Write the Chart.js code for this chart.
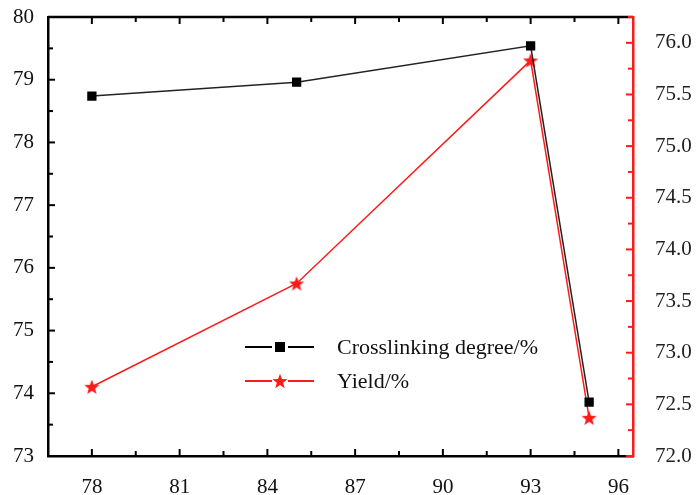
<!DOCTYPE html>
<html>
<head>
<meta charset="utf-8">
<script src="https://cdn.jsdelivr.net/npm/chart.js@4.4.1/dist/chart.umd.min.js"></script>
<style>
  html, body { margin: 0; padding: 0; background: #fff; }
  #wrap { width: 696px; height: 495px; }
</style>
</head>
<body>
<div id="wrap"><canvas id="chart" width="696" height="495"></canvas></div>
<script>
// data
const TEMPS = [78, 85, 93, 95];
const CROSSLINK = [78.74, 78.96, 79.54, 73.86];
const YIELD = [72.67, 73.67, 75.83, 72.37];
const SERIES_NAMES = ['Crosslinking degree/%', 'Yield/%'];

const FONT = '"Liberation Serif", "Times New Roman", serif';
const RED = '#ff1a1a';

// is v a multiple of step (tolerant of float noise)
const isMult = (v, step) => Math.abs(v / step - Math.round(v / step)) < 1e-6;

// filled five-point star for the yield series
function makeStar(size, color){
  const c = document.createElement('canvas');
  c.width = size; c.height = size;
  const g = c.getContext('2d');
  const cx = size/2, cy = size/2 + 0.7, ro = size/2, ri = ro*0.42;
  g.beginPath();
  for(let i = 0; i < 10; i++){
    const r = i % 2 ? ri : ro;
    const a = -Math.PI/2 + i*Math.PI/5;
    g.lineTo(cx + r*Math.cos(a), cy + r*Math.sin(a));
  }
  g.closePath();
  g.fillStyle = color; g.fill();
  return c;
}
const STAR = makeStar(16, RED);

// ticks pointing into the plot, drawn from the scales' own tick list
const inwardTicks = {
  id: 'inwardTicks',
  afterDraw(chart){
    const {ctx, chartArea: a, scales} = chart;
    ctx.save();
    const x = scales.x;
    ctx.strokeStyle = '#000'; ctx.lineWidth = 2;
    x.ticks.forEach(t => {
      const px = x.getPixelForValue(t.value);
      const len = isMult(t.value, 3) ? 7 : 5;
      ctx.beginPath(); ctx.moveTo(px, a.bottom); ctx.lineTo(px, a.bottom - len); ctx.stroke();
      ctx.beginPath(); ctx.moveTo(px, a.top); ctx.lineTo(px, a.top + len); ctx.stroke();
    });
    // top frame line
    ctx.lineWidth = 2.5;
    ctx.beginPath(); ctx.moveTo(a.left, a.top); ctx.lineTo(a.right, a.top); ctx.stroke();
    const y = scales.y;
    ctx.lineWidth = 2;
    y.ticks.forEach(t => {
      const py = y.getPixelForValue(t.value);
      const len = isMult(t.value, 1) ? 7 : 5;
      ctx.beginPath(); ctx.moveTo(a.left, py); ctx.lineTo(a.left + len, py); ctx.stroke();
    });
    const y2 = scales.y2;
    ctx.strokeStyle = RED;
    y2.ticks.forEach(t => {
      const py = y2.getPixelForValue(t.value);
      const len = isMult(t.value, 0.5) ? 7 : 5;
      ctx.beginPath(); ctx.moveTo(a.right, py); ctx.lineTo(a.right - len, py); ctx.stroke();
    });
    ctx.restore();
  }
};

// legend inside the plot area
const innerLegend = {
  id: 'innerLegend',
  afterDraw(chart){
    const ctx = chart.ctx;
    const rows = [
      {y: 347, color: '#000', name: SERIES_NAMES[0], mark: 'rect'},
      {y: 381, color: RED, name: SERIES_NAMES[1], mark: 'star'}
    ];
    ctx.save();
    rows.forEach(r => {
      ctx.strokeStyle = r.color; ctx.lineWidth = 2;
      ctx.beginPath(); ctx.moveTo(245, r.y); ctx.lineTo(272, r.y); ctx.stroke();
      ctx.beginPath(); ctx.moveTo(288, r.y); ctx.lineTo(314, r.y); ctx.stroke();
      if(r.mark === 'rect'){
        ctx.fillStyle = r.color; ctx.fillRect(275, r.y - 5, 10, 10);
      } else {
        ctx.drawImage(STAR, 280 - 8, r.y - 8);
      }
      ctx.fillStyle = '#111';
      ctx.font = '22px ' + FONT;
      ctx.textBaseline = 'middle';
      ctx.fillText(r.name, 337, r.y + 1);
    });
    ctx.restore();
  }
};

// fix the plot box: no automatic label padding on any axis
const noPad = s => { s.paddingTop = 0; s.paddingBottom = 0; s.paddingLeft = 0; s.paddingRight = 0; };

new Chart(document.getElementById('chart'), {
  type: 'line',
  data: {
    datasets: [
      {
        label: SERIES_NAMES[0],
        data: TEMPS.map((t, i) => ({x: t, y: CROSSLINK[i]})),
        yAxisID: 'y',
        borderColor: '#222', borderWidth: 1.5,
        pointStyle: 'rect', pointRadius: 5.5, pointBackgroundColor: '#000', pointBorderColor: '#000',
        tension: 0
      },
      {
        label: SERIES_NAMES[1],
        data: TEMPS.map((t, i) => ({x: t, y: YIELD[i]})),
        yAxisID: 'y2',
        borderColor: RED, borderWidth: 1.5,
        pointStyle: STAR, pointRadius: 8,
        tension: 0
      }
    ]
  },
  options: {
    responsive: false,
    animation: false,
    layout: {padding: {top: 17, left: 0, right: 0, bottom: 0}},
    plugins: {legend: {display: false}, tooltip: {enabled: false}},
    scales: {
      x: {
        type: 'linear', min: 76.5, max: 96.5,
        grid: {display: false, drawTicks: false},
        border: {color: '#000', width: 2.5},
        ticks: {
          stepSize: 1.5, includeBounds: false, padding: 19, color: '#111', maxRotation: 0, autoSkip: false,
          font: {family: FONT, size: 21},
          callback: v => isMult(v, 3) ? String(Math.round(v)) : ''
        },
        afterFit: s => { s.height = 39; noPad(s); }
      },
      y: {
        type: 'linear', position: 'left', min: 73, max: 80,
        grid: {display: false, drawTicks: false},
        border: {color: '#000', width: 2.5},
        ticks: {
          stepSize: 0.5, padding: 14, color: '#111', autoSkip: false,
          font: {family: FONT, size: 21},
          callback: v => isMult(v, 1) ? String(Math.round(v)) : ''
        },
        afterFit: s => { s.width = 48; noPad(s); }
      },
      y2: {
        type: 'linear', position: 'right', min: 72, max: 76.25,
        grid: {display: false, drawTicks: false},
        border: {color: RED, width: 2.5},
        ticks: {
          stepSize: 0.25, padding: 22, color: '#222', autoSkip: false,
          font: {family: FONT, size: 21},
          callback: v => isMult(v, 0.5) ? v.toFixed(1) : ''
        },
        afterFit: s => { s.width = 63; noPad(s); }
      }
    }
  },
  plugins: [inwardTicks, innerLegend]
});
</script>
</body>
</html>
